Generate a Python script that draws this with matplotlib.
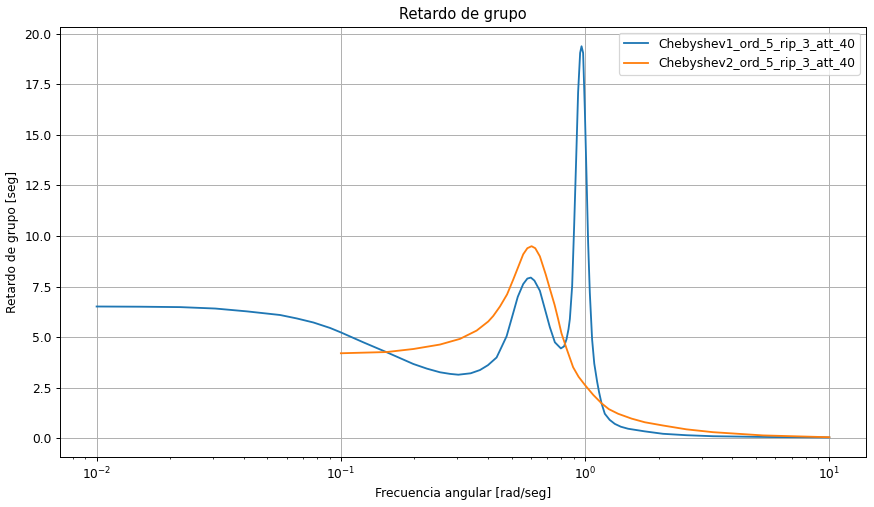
# retardo_grupo.py
# Retardo de grupo de dos filtros Chebyshev

import matplotlib
matplotlib.use('Agg')
import matplotlib.pyplot as plt

# =========================================================================
# Datos: frecuencia angular [rad/seg] y retardo de grupo [seg]

w_cheb1 = [0.0100, 0.01509, 0.0220, 0.0306, 0.0412, 0.0564, 0.0660, 0.0772,
           0.0903, 0.1000, 0.1236, 0.1540, 0.1980, 0.2250, 0.2545, 0.2800,
           0.3026, 0.3400, 0.3710, 0.4000, 0.4340, 0.4480, 0.4770, 0.5077,
           0.5300, 0.5578, 0.5800, 0.5995, 0.6200, 0.6420, 0.6527, 0.6950,
           0.7170, 0.7520, 0.7955, 0.8200, 0.8390, 0.8550, 0.8660, 0.8850,
           0.9017, 0.9190, 0.9360, 0.9540, 0.9667, 0.9813, 0.9972, 1.0133,
           1.0287, 1.0452, 1.0680, 1.0900, 1.1200, 1.1400, 1.1670, 1.2040,
           1.2600, 1.3230, 1.4000, 1.4990, 1.7550, 2.0840, 2.6000, 3.3380,
           5.6900, 10.000]
gd_cheb1 = [6.52, 6.51, 6.49, 6.42, 6.28, 6.10, 5.93, 5.73,
            5.46, 5.24, 4.75, 4.26, 3.68, 3.45, 3.27, 3.19,
            3.15, 3.22, 3.38, 3.62, 4.00, 4.35, 5.05, 6.20,
            7.00, 7.63, 7.90, 7.95, 7.80, 7.46, 7.30, 6.10,
            5.50, 4.75, 4.45, 4.55, 4.90, 5.40, 5.90, 7.54,
            10.50, 13.80, 17.10, 19.05, 19.38, 19.05, 16.26, 12.97,
            9.68, 7.21, 4.90, 3.70, 2.80, 2.30, 1.74, 1.22,
            0.92, 0.72, 0.58, 0.48, 0.35, 0.23, 0.16, 0.11,
            0.07, 0.05]

w_cheb2 = [0.1000, 0.1540, 0.1980, 0.2545, 0.3073, 0.3596, 0.4012, 0.4204,
           0.4480, 0.4792, 0.5077, 0.5578, 0.5800, 0.6036, 0.6250, 0.6527,
           0.6900, 0.7170, 0.7500, 0.7754, 0.8000, 0.8390, 0.8930, 0.9400,
           0.9970, 1.0800, 1.1670, 1.2500, 1.3650, 1.5500, 1.7550, 2.0840,
           2.6000, 3.3380, 5.3460, 10.000]
gd_cheb2 = [4.21, 4.27, 4.42, 4.64, 4.92, 5.33, 5.78, 6.05,
            6.52, 7.12, 7.85, 9.10, 9.40, 9.50, 9.40, 9.00,
            8.10, 7.40, 6.60, 5.90, 5.20, 4.45, 3.52, 3.05,
            2.65, 2.15, 1.74, 1.45, 1.22, 0.98, 0.80, 0.64,
            0.45, 0.31, 0.15, 0.06]

labels = ['Chebyshev1_ord_5_rip_3_att_40', 'Chebyshev2_ord_5_rip_3_att_40']

# =========================================================================
dpi = 88
fig = plt.figure(figsize=(874 / dpi, 507 / dpi), dpi=dpi)
ax = fig.add_axes([60 / 874, 1 - 457 / 507, 806 / 874, (457 - 26.7) / 507])

ax.semilogx(w_cheb1, gd_cheb1, label=labels[0])
ax.semilogx(w_cheb2, gd_cheb2, label=labels[1])

ax.set_xlabel('Frecuencia angular [rad/seg]')
ax.set_ylabel('Retardo de grupo [seg]')
ax.set_title('Retardo de grupo', fontsize=12)
ax.grid(True)
ax.legend(loc='upper right')

fig.savefig('out.png', dpi=dpi)
